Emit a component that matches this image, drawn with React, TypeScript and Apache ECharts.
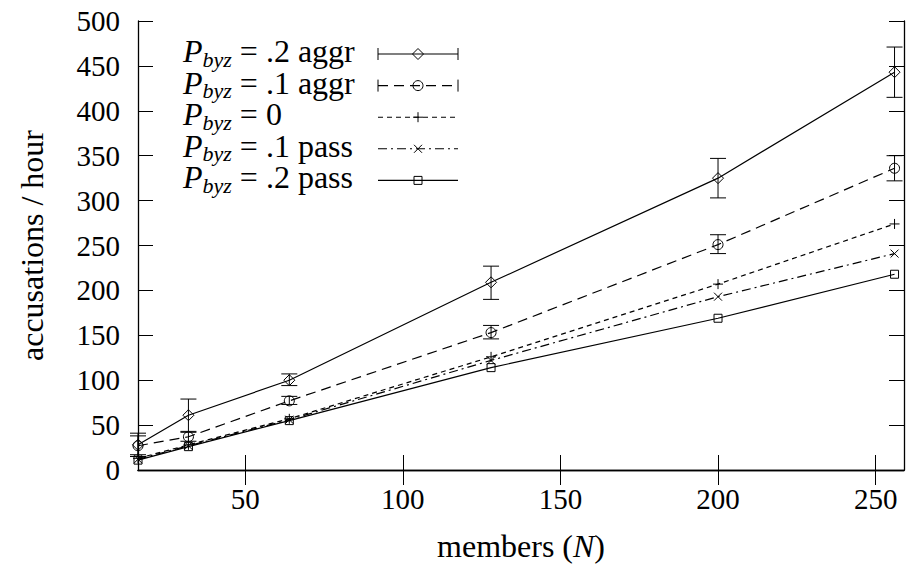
import React, { useEffect, useRef } from "react";
import * as echarts from "echarts";

// Group size N on the x axis
const members = [16, 32, 64, 128, 200, 256];

// accusations per hour for each Byzantine probability / behaviour
const aggr2 = [28, 61, 100, 209, 325, 443];
const aggr2Low = [15, 43, 94, 190, 303, 415];
const aggr2High = [41, 79, 107, 227, 347, 471];

const aggr1 = [27, 37, 77, 153, 251, 336];
const aggr1Low = [17, 32, 73, 146, 241, 322];
const aggr1High = [38, 42, 82, 161, 262, 350];

const zero = [13, 28, 57, 126, 207, 274];
const pass1 = [12, 27, 56, 122, 193, 241];
const pass2 = [11, 26, 55, 114, 169, 218];

const xTicks = [50, 100, 150, 200, 250];
const yTicks = [0, 50, 100, 150, 200, 250, 300, 350, 400, 450, 500];

const legendLabels = ["= .2 aggr", "= .1 aggr", "= 0", "= .1 pass", "= .2 pass"];

const FONT = "serif";
const INK = "#000";

type Marker = "diamond" | "circle" | "plus" | "cross" | "square";

const PLUS_PATH = "path://M0,5L10,5M5,0L5,10";
const CROSS_PATH = "path://M0,0L10,10M10,0L0,10";

const seriesDefs: {
  values: number[];
  marker: Marker;
  dash: number[] | "solid";
  caps: boolean;
}[] = [
  { values: aggr2, marker: "diamond", dash: "solid", caps: true },
  { values: aggr1, marker: "circle", dash: [10, 6], caps: true },
  { values: zero, marker: "plus", dash: [5, 4], caps: false },
  { values: pass1, marker: "cross", dash: [9, 4, 2, 4], caps: false },
  { values: pass2, marker: "square", dash: "solid", caps: false },
];

const symbolFor: Record<Marker, { symbol: string; size: number }> = {
  diamond: { symbol: "diamond", size: 11 },
  circle: { symbol: "circle", size: 10 },
  plus: { symbol: PLUS_PATH, size: 10 },
  cross: { symbol: CROSS_PATH, size: 8 },
  square: { symbol: "rect", size: 8 },
};

function errorBarSeries(low: number[], high: number[]) {
  return {
    type: "custom",
    clip: false,
    z: 4,
    silent: true,
    data: members.map((n, i) => [n, low[i], high[i]]),
    encode: { x: 0, y: [1, 2] },
    renderItem: (_params: any, api: any) => {
      const x = api.value(0);
      const top = api.coord([x, api.value(2)]);
      const bot = api.coord([x, api.value(1)]);
      const w = 8;
      const st = { stroke: INK, lineWidth: 1, fill: "none" };
      return {
        type: "group",
        children: [
          { type: "line", shape: { x1: top[0], y1: top[1], x2: bot[0], y2: bot[1] }, style: st },
          { type: "line", shape: { x1: top[0] - w, y1: top[1], x2: top[0] + w, y2: top[1] }, style: st },
          { type: "line", shape: { x1: bot[0] - w, y1: bot[1], x2: bot[0] + w, y2: bot[1] }, style: st },
        ],
      };
    },
  };
}

// Key glyph drawn in the legend box
function legendMarker(marker: Marker, cx: number, cy: number): any {
  const st = { stroke: INK, lineWidth: 1, fill: "none" };
  switch (marker) {
    case "diamond":
      return {
        type: "polygon",
        shape: { points: [[cx, cy - 5.5], [cx + 5.5, cy], [cx, cy + 5.5], [cx - 5.5, cy]] },
        style: st,
      };
    case "circle":
      return { type: "circle", shape: { cx, cy, r: 5 }, style: st };
    case "plus":
      return {
        type: "group",
        children: [
          { type: "line", shape: { x1: cx - 5, y1: cy, x2: cx + 5, y2: cy }, style: st },
          { type: "line", shape: { x1: cx, y1: cy - 5, x2: cx, y2: cy + 5 }, style: st },
        ],
      };
    case "cross":
      return {
        type: "group",
        children: [
          { type: "line", shape: { x1: cx - 4, y1: cy - 4, x2: cx + 4, y2: cy + 4 }, style: st },
          { type: "line", shape: { x1: cx - 4, y1: cy + 4, x2: cx + 4, y2: cy - 4 }, style: st },
        ],
      };
    default:
      return { type: "rect", shape: { x: cx - 4, y: cy - 4, width: 8, height: 8 }, style: st };
  }
}

function buildLegend() {
  const elements: any[] = [];
  const rowTop = 54;
  const rowStep = 31.6;
  const textX = 183;
  const lineX1 = 378;
  const lineX2 = 458;
  const markX = 418;
  seriesDefs.forEach((def, i) => {
    const y = rowTop + rowStep * i;
    elements.push({
      type: "text",
      x: textX,
      y: y - 3,
      style: {
        text: `{p|P}{s|byz}{t| ${legendLabels[i]}}`,
        align: "left",
        verticalAlign: "middle",
        fill: INK,
        fontFamily: FONT,
        fontSize: 32,
        rich: {
          p: { fontFamily: FONT, fontStyle: "italic", fontSize: 32, lineHeight: 28, fill: INK },
          s: {
            fontFamily: FONT,
            fontStyle: "italic",
            fontSize: 22,
            lineHeight: 28,
            padding: [16, 0, 0, 0],
            fill: INK,
          },
          t: { fontFamily: FONT, fontSize: 32, lineHeight: 28, fill: INK },
        },
      },
    });
    elements.push({
      type: "line",
      shape: { x1: lineX1, y1: y, x2: lineX2, y2: y },
      style: {
        stroke: INK,
        lineWidth: 1.1,
        lineDash: def.dash === "solid" ? null : def.dash,
      },
    });
    if (def.caps) {
      [lineX1, lineX2].forEach((cx) =>
        elements.push({
          type: "line",
          shape: { x1: cx, y1: y - 6, x2: cx, y2: y + 6 },
          style: { stroke: INK, lineWidth: 1 },
        })
      );
    }
    elements.push(legendMarker(def.marker, markX, y));
  });
  return elements;
}

const axisStyle = { color: INK, width: 1.3 };
const tickStyle = { color: INK, width: 1 };

export default function App() {
  const ref = useRef<HTMLDivElement>(null);

  useEffect(() => {
    if (!ref.current) return;
    const chart = echarts.init(ref.current, undefined, { renderer: "svg" });

    const lineSeries = seriesDefs.map((def) => {
      const sym = symbolFor[def.marker];
      return {
        type: "line",
        data: members.map((n, i) => [n, def.values[i]]),
        symbol: sym.symbol,
        symbolSize: sym.size,
        showAllSymbol: true,
        clip: false,
        z: 3,
        lineStyle: {
          color: INK,
          width: 1.2,
          type: def.dash === "solid" ? "solid" : def.dash,
        },
        itemStyle: { color: "transparent", borderColor: INK, borderWidth: 1 },
        emphasis: { disabled: true },
      };
    });

    chart.setOption({
      animation: false,
      grid: {
        left: 138,
        top: 21,
        width: 766,
        height: 449,
        containLabel: false,
      },
      xAxis: [
        {
          type: "value",
          min: 16,
          max: 259,
          position: "bottom",
          axisLine: { show: true, lineStyle: axisStyle },
          axisTick: { show: true, inside: true, length: 15, customValues: xTicks, lineStyle: tickStyle },
          axisLabel: {
            customValues: xTicks,
            fontFamily: FONT,
            fontSize: 29,
            color: INK,
            margin: 14,
          },
          splitLine: { show: false },
          name: "{a|members (}{b|N}{a|)}",
          nameLocation: "middle",
          nameGap: 60,
          nameTextStyle: {
            fontFamily: FONT,
            fontSize: 32,
            rich: {
              a: { fontFamily: FONT, fontSize: 32, color: INK },
              b: { fontFamily: FONT, fontSize: 32, fontStyle: "italic", color: INK },
            },
          },
        },
        {
          type: "value",
          min: 16,
          max: 259,
          position: "top",
          axisLine: { show: true, lineStyle: axisStyle },
          axisTick: { show: true, inside: true, length: 15, customValues: xTicks, lineStyle: tickStyle },
          axisLabel: { show: false },
          splitLine: { show: false },
        },
      ],
      yAxis: [
        {
          type: "value",
          min: 0,
          max: 500,
          interval: 50,
          position: "left",
          axisLine: { show: true, lineStyle: axisStyle },
          axisTick: { show: true, inside: true, length: 15, customValues: yTicks, lineStyle: tickStyle },
          axisLabel: { customValues: yTicks, fontFamily: FONT, fontSize: 29, color: INK, margin: 18 },
          splitLine: { show: false },
          name: "accusations / hour",
          nameLocation: "middle",
          nameGap: 90,
          nameRotate: 90,
          nameTextStyle: { fontFamily: FONT, fontSize: 32, color: INK },
        },
        {
          type: "value",
          min: 0,
          max: 500,
          interval: 50,
          position: "right",
          axisLine: { show: true, lineStyle: axisStyle },
          axisTick: { show: true, inside: true, length: 15, lineStyle: tickStyle },
          axisLabel: { show: false },
          splitLine: { show: false },
        },
      ],
      series: [
        ...lineSeries,
        errorBarSeries(aggr2Low, aggr2High),
        errorBarSeries(aggr1Low, aggr1High),
      ],
      graphic: buildLegend(),
    });

    return () => chart.dispose();
  }, []);

  return (
    <div
      ref={ref}
      style={{ position: "absolute", left: 0, top: 0, width: 907, height: 567, background: "#fff" }}
    />
  );
}
